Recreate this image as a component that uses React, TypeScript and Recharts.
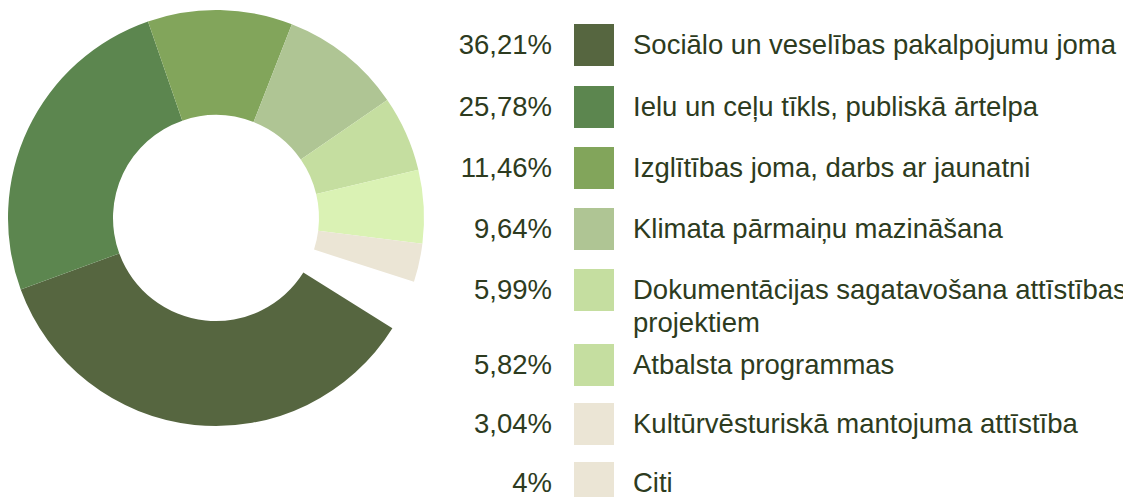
import React from 'react'
import { Cell, Pie, PieChart } from 'recharts'

const categories = [
  'Sociālo un veselības pakalpojumu joma',
  'Ielu un ceļu tīkls, publiskā ārtelpa',
  'Izglītības joma, darbs ar jaunatni',
  'Klimata pārmaiņu mazināšana',
  'Dokumentācijas sagatavošana attīstības projektiem',
  'Atbalsta programmas',
  'Kultūrvēsturiskā mantojuma attīstība',
  'Citi',
]
const shares = [36.21, 25.78, 11.46, 9.64, 5.99, 5.82, 3.04, 4]
const shareLabels = ['36,21%', '25,78%', '11,46%', '9,64%', '5,99%', '5,82%', '3,04%', '4%']
const sliceColors = ['#566640', '#5c864f', '#82a55b', '#afc594', '#c5dea0', '#daf2b4', '#ebe5d5', 'transparent']
const swatchColors = ['#566640', '#5c864f', '#82a55b', '#afc594', '#c5dea0', '#c5dea0', '#ebe5d5', '#ebe5d5']

const data = categories.map((name, i) => ({ name, value: shares[i] }))

const rowTops = [24, 86, 147, 208, 269, 344, 403, 462]
const textColor = '#2d3b20'

const App = () => {
  return (
    <div style={{ position: 'relative', width: 1115, height: 489, fontFamily: '"Liberation Sans", Arial, sans-serif' }}>
      <PieChart width={440} height={440} margin={{ top: 0, right: 0, left: 0, bottom: 0 }}>
        <Pie
          data={data}
          dataKey="value"
          nameKey="name"
          cx={208}
          cy={210}
          innerRadius={103}
          outerRadius={208}
          startAngle={-32}
          endAngle={-392}
          stroke="none"
          isAnimationActive={false}
        >
          {data.map((d, i) => (
            <Cell key={d.name} fill={sliceColors[i]} stroke="none" />
          ))}
        </Pie>
      </PieChart>
      {categories.map((name, i) => (
        <div key={name} style={{ position: 'absolute', left: 0, top: rowTops[i] - 8, width: 1115 }}>
          <div
            style={{
              position: 'absolute',
              right: 1115 - 544,
              top: 0,
              fontSize: 27.5,
              lineHeight: '42px',
              color: textColor,
              whiteSpace: 'nowrap',
            }}
          >
            {shareLabels[i]}
          </div>
          <div style={{ position: 'absolute', left: 566, top: 0, width: 40, height: 42, background: swatchColors[i] }} />
          <div
            style={{
              position: 'absolute',
              left: 625,
              top: 4,
              width: 496,
              fontSize: 27.5,
              lineHeight: '33px',
              color: textColor,
            }}
          >
            {name}
          </div>
        </div>
      ))}
    </div>
  )
}

export default App
